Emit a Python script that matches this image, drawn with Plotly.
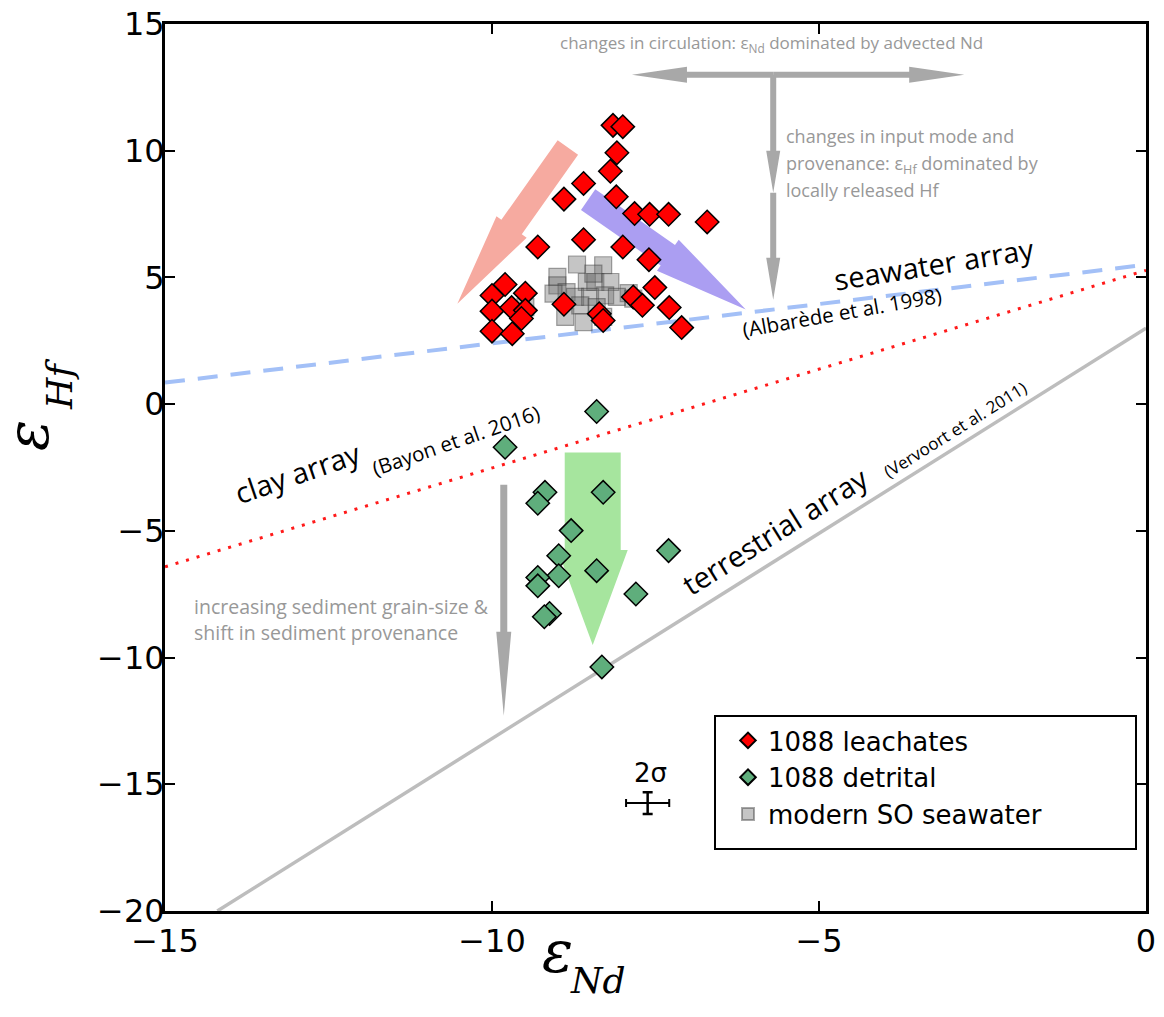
import math
import plotly.graph_objects as go

# ---------------- data ----------------
leach_nd = [-8.15, -8.00, -8.09, -8.19, -8.60, -8.90, -8.10, -7.82, -7.59, -7.30, -6.71,
            -9.30, -8.60, -8.00, -7.60, -7.51, -10.00, -9.80, -9.49, -10.00, -9.70, -9.49,
            -10.00, -9.69, -8.90, -7.84, -7.70, -7.29, -8.36, -8.30, -7.10, -9.55]
leach_hf = [11.00, 10.95, 9.92, 9.19, 8.71, 8.09, 8.18, 7.52, 7.49, 7.49, 7.19,
            6.20, 6.49, 6.20, 5.70, 4.60, 4.29, 4.72, 4.38, 3.67, 3.81, 3.70,
            2.88, 2.78, 3.94, 4.23, 3.90, 3.81, 3.57, 3.30, 3.02, 3.38]

det_nd = [-8.40, -9.80, -9.19, -9.30, -8.30, -8.79, -8.98, -7.30, -8.98, -9.30, -9.30,
          -8.40, -7.80, -9.12, -9.20, -8.32]
det_hf = [-0.29, -1.70, -3.48, -3.91, -3.48, -4.99, -5.98, -5.78, -6.77, -6.84, -7.17,
          -6.57, -7.49, -8.26, -8.39, -10.37]

sw_nd = [-9.00, -8.70, -8.30, -9.00, -8.86, -8.55, -8.42, -8.19, -7.91, -9.06, -8.73,
         -8.50, -8.27, -8.09, -8.88, -8.60, -8.30, -8.65, -9.49, -8.40, -7.84, -8.45]
sw_hf = [5.02, 5.51, 5.48, 4.69, 4.42, 4.82, 4.82, 4.82, 4.38, 4.36, 4.23,
         4.23, 4.29, 4.23, 3.44, 3.24, 3.44, 3.90, 3.83, 3.83, 4.16, 5.15]

seawater_nd = [-15.0, 0.0]
seawater_hf = [0.85, 5.50]
clay_nd = [-15.0, 0.0]
clay_hf = [-6.42, 5.28]
terr_nd = [-14.2, 0.0]
terr_hf = [-20.0, 3.0]

err_nd = [-7.62]
err_hf = [-15.74]
err_dx = [0.33]
err_dy = [0.43]

x_ticks = [-15, -10, -5, 0]
y_ticks = [-20, -15, -10, -5, 0, 5, 10, 15]

# ---------------- layout geometry ----------------
W, H = 1164, 1017
ML, MR, MT, MB = 165, 18, 24, 106
XR = [-15, 0]
YR = [-20, 15]
PW = W - ML - MR
PH = H - MT - MB
PX_X = PW / (XR[1] - XR[0])
PX_Y = PH / (YR[1] - YR[0])


def px2paper(px, py):
    return (px - ML) / PW, (H - MB - py) / PH


def arrow_path(tail, tip, body_w, head_w, head_len):
    tx, ty = tail[0] * PX_X, -tail[1] * PX_Y
    px, py = tip[0] * PX_X, -tip[1] * PX_Y
    dx, dy = px - tx, py - ty
    L = math.hypot(dx, dy)
    ux, uy = dx / L, dy / L
    nx, ny = -uy, ux
    bx, by = px - ux * head_len, py - uy * head_len
    pts = [
        (tx + nx * body_w / 2, ty + ny * body_w / 2),
        (bx + nx * body_w / 2, by + ny * body_w / 2),
        (bx + nx * head_w / 2, by + ny * head_w / 2),
        (px, py),
        (bx - nx * head_w / 2, by - ny * head_w / 2),
        (bx - nx * body_w / 2, by - ny * body_w / 2),
        (tx - nx * body_w / 2, ty - ny * body_w / 2),
    ]
    d = [(x / PX_X, -y / PX_Y) for x, y in pts]
    return "M " + " L ".join(f"{a:.4f},{b:.4f}" for a, b in d) + " Z"


# arrows: (tail, tip, body px, head width px, head length px, colour)
arrows = [
    ((-8.84, 10.13), (-10.53, 3.96), 25, 37, 94, "#f6aaa0"),
    ((-8.53, 8.07), (-6.12, 3.73), 25, 38, 95, "#ab9ef2"),
    ((-8.46, -1.91), (-8.46, -9.50), 56, 70, 95, "#a6e59e"),
    ((-5.70, 13.0), (-7.86, 13.0), 6, 16, 55, "#a8a8a8"),
    ((-5.70, 13.0), (-2.78, 13.0), 6, 16, 55, "#a8a8a8"),
    ((-5.70, 13.0), (-5.70, 8.34), 6, 14, 42, "#a8a8a8"),
    ((-5.70, 8.34), (-5.70, 4.12), 6, 14, 42, "#a8a8a8"),
    ((-9.82, -3.18), (-9.82, -12.30), 7, 15, 84, "#a8a8a8"),
]

shapes = []
for tail, tip, bw, hw, hl, col in arrows:
    shapes.append(dict(type="path", xref="x", yref="y", path=arrow_path(tail, tip, bw, hw, hl),
                       fillcolor=col, line=dict(width=0), layer="below"))

# legend frame
lx0, ly0 = px2paper(715, 849)
lx1, ly1 = px2paper(1136, 716)
shapes.append(dict(type="rect", xref="paper", yref="paper", x0=lx0, x1=lx1, y0=ly0, y1=ly1,
                   line=dict(color="black", width=2), fillcolor="white", layer="below"))

fig = go.Figure()

fig.add_trace(go.Scatter(x=seawater_nd, y=seawater_hf, mode="lines", showlegend=False,
                         line=dict(color="#a3c0f7", width=4, dash="20px,13px"), hoverinfo="skip"))
fig.add_trace(go.Scatter(x=clay_nd, y=clay_hf, mode="lines", showlegend=False,
                         line=dict(color="#ff1a1a", width=3, dash="3px,8px"), hoverinfo="skip"))
fig.add_trace(go.Scatter(x=terr_nd, y=terr_hf, mode="lines", showlegend=False,
                         line=dict(color="#bdbdbd", width=3.5), hoverinfo="skip"))

fig.add_trace(go.Scatter(x=sw_nd, y=sw_hf, mode="markers", name="modern SO seawater", legendrank=3,
                         marker=dict(symbol="square", size=17, color="rgba(110,110,110,0.4)",
                                     line=dict(color="rgba(60,60,60,0.45)", width=1.2))))
fig.add_trace(go.Scatter(x=leach_nd, y=leach_hf, mode="markers", name="1088 leachates", legendrank=1,
                         marker=dict(symbol="diamond", size=18, color="#ff0000",
                                     line=dict(color="black", width=1.5))))
fig.add_trace(go.Scatter(x=det_nd, y=det_hf, mode="markers", name="1088 detrital", legendrank=2,
                         marker=dict(symbol="diamond", size=18, color="#5fae7c",
                                     line=dict(color="black", width=1.5))))

fig.add_trace(go.Scatter(x=err_nd, y=err_hf, mode="markers", showlegend=False,
                         marker=dict(size=1, color="black"),
                         error_x=dict(type="data", array=err_dx, color="black", thickness=2, width=4),
                         error_y=dict(type="data", array=err_dy, color="black", thickness=2.5, width=5)))

gray = "#989898"
note_font = dict(family="Open Sans", size=18, color=gray)
lab_font = dict(family="Open Sans", size=29, color="black")
math_big = dict(family="DejaVu Serif", size=58, color="black")
math_sub = dict(family="DejaVu Serif", size=36, color="black")

ex_x, ex_y = px2paper(557, 952)
nd_x, nd_y = px2paper(598, 981)
ey_x, ey_y = px2paper(28, 436)
hf_x, hf_y = px2paper(59, 385)

annotations = [
    dict(x=-5.72, y=14.25, text="changes in circulation: ε<sub>Nd</sub> dominated by advected Nd",
         font=dict(family="Open Sans", size=17, color=gray)),
    dict(x=-5.54, y=10.6, text="changes in input mode and", font=note_font, xanchor="left"),
    dict(x=-5.54, y=9.45, text="provenance: ε<sub>Hf</sub> dominated by", font=note_font, xanchor="left"),
    dict(x=-5.54, y=8.45, text="locally released Hf", font=note_font, xanchor="left"),
    dict(x=-14.59, y=-8.0, text="increasing sediment grain-size &",
         font=dict(family="Open Sans", size=19.5, color=gray), xanchor="left"),
    dict(x=-14.59, y=-9.02, text="shift in sediment provenance",
         font=dict(family="Open Sans", size=19.5, color=gray), xanchor="left"),
    dict(x=-3.24, y=5.55, text="seawater array", font=lab_font, textangle=-9),
    dict(x=-4.65, y=3.65, text="(Albarède et al. 1998)", font=dict(family="Open Sans", size=20.5, color="black"),
         textangle=-10),
    dict(x=-12.98, y=-2.68, text="clay array", font=lab_font, textangle=-19),
    dict(x=-10.55, y=-1.41, text="(Bayon et al. 2016)", font=dict(family="Open Sans", size=20.5, color="black"),
         textangle=-19),
    dict(x=-5.67, y=-5.0, text="terrestrial array", font=lab_font, textangle=-32),
    dict(x=-2.92, y=-1.01, text="(Vervoort et al. 2011)", font=dict(family="Open Sans", size=17, color="black"),
         textangle=-32),
    dict(x=-7.58, y=-14.55, text="2σ", font=dict(family="DejaVu Sans", size=26, color="black")),
    # axis titles (symbol and subscript placed separately)
    dict(x=ex_x, y=ex_y, xref="paper", yref="paper", text="<i>ε</i>", font=math_big),
    dict(x=nd_x, y=nd_y, xref="paper", yref="paper", text="<i>Nd</i>", font=math_sub),
    dict(x=ey_x, y=ey_y, xref="paper", yref="paper", text="<i>ε</i>", font=math_big, textangle=-90),
    dict(x=hf_x, y=hf_y, xref="paper", yref="paper", text="<i>Hf</i>", font=math_sub, textangle=-90),
]
for a in annotations:
    a.setdefault("xref", "x")
    a.setdefault("yref", "y")
    a.setdefault("xanchor", "center")
    a.setdefault("yanchor", "middle")
    a.setdefault("showarrow", False)

lgx, lgy = px2paper(728, 717)

fig.update_layout(
    width=W, height=H,
    margin=dict(l=ML, r=MR, t=MT, b=MB, pad=0, autoexpand=False),
    paper_bgcolor="white", plot_bgcolor="white",
    shapes=shapes, annotations=annotations,
    legend=dict(x=lgx, y=lgy, xanchor="left", yanchor="top",
                bgcolor="rgba(0,0,0,0)", borderwidth=0,
                font=dict(family="DejaVu Sans", size=26, color="black"),
                itemsizing="constant", tracegroupgap=0),
    xaxis=dict(range=XR, tickvals=x_ticks, ticks="inside", ticklen=10, tickwidth=1.5,
               tickcolor="black", showline=True, linecolor="black", linewidth=3, mirror="ticks",
               showgrid=False, zeroline=False, automargin=False,
               tickfont=dict(family="DejaVu Sans", size=32, color="black")),
    yaxis=dict(range=YR, tickvals=y_ticks, ticks="inside", ticklen=10, tickwidth=1.5,
               tickcolor="black", showline=True, linecolor="black", linewidth=3, mirror="ticks",
               showgrid=False, zeroline=False, ticklabelstandoff=-9, automargin=False,
               tickfont=dict(family="DejaVu Sans", size=32, color="black")),
)

fig.write_html("out.html")
